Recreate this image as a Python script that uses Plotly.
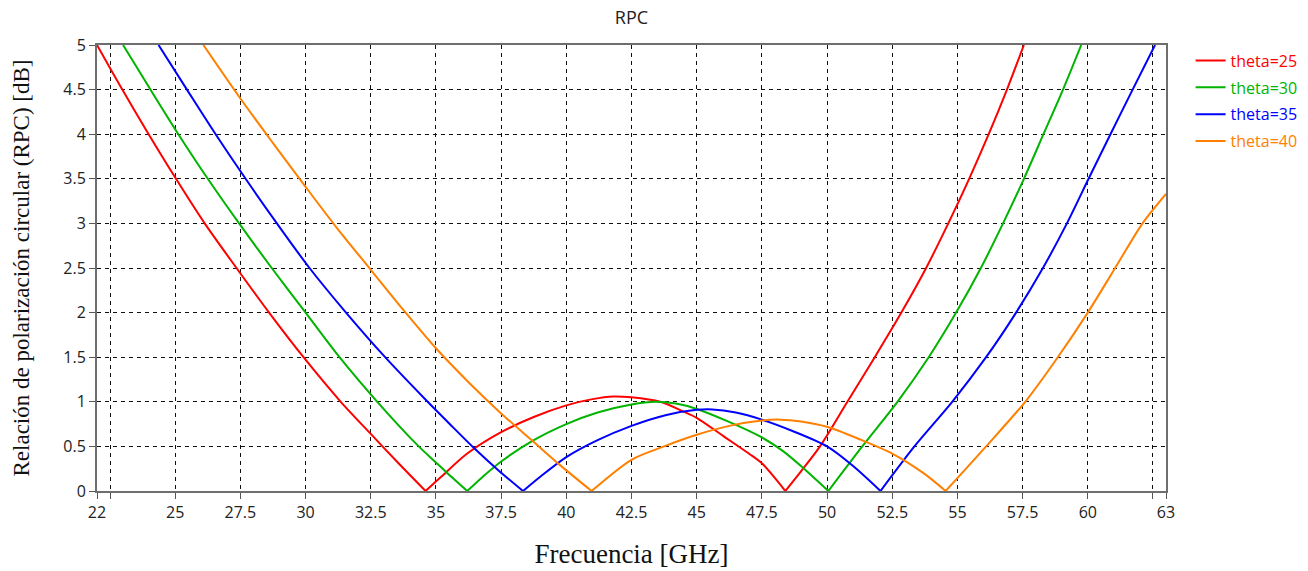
import plotly.graph_objects as go

# ---------------- data ----------------
freq_25 = [22.0, 22.97, 23.98, 25.03, 26.13, 27.35, 28.6, 29.92, 31.35, 32.5, 33.5, 34.6,
           35.2, 36.2, 37.5, 38.75, 40.0, 41.0, 41.8, 42.5, 43.6, 44.5, 45.0, 46.0, 47.0,
           47.5, 48.4, 49.0, 49.73, 50.78, 51.83, 52.85, 53.8, 54.65, 55.45, 56.2, 56.9, 57.55]
rpc_25 = [5.0, 4.5, 4.0, 3.5, 3.0, 2.5, 2.0, 1.5, 1.0, 0.64, 0.33, 0.0,
          0.16, 0.42, 0.66, 0.83, 0.96, 1.03, 1.06, 1.05, 1.0, 0.89, 0.82, 0.62, 0.42,
          0.31, 0.0, 0.22, 0.5, 1.0, 1.5, 2.0, 2.5, 3.0, 3.5, 4.0, 4.5, 5.0]

freq_30 = [23.0, 24.05, 25.12, 26.25, 27.45, 28.7, 30.0, 31.3, 32.75, 34.34, 35.0, 35.4, 36.2,
           36.8, 37.5, 38.75, 40.0, 41.2, 42.5, 43.4, 44.2, 45.0, 46.2, 47.5, 48.3, 49.0, 50.05,
           51.35, 52.7, 53.9, 54.95, 55.9, 56.75, 57.55, 58.3, 59.05, 59.75]
rpc_30 = [5.0, 4.5, 4.0, 3.5, 3.0, 2.5, 2.0, 1.5, 1.0, 0.5, 0.32, 0.21, 0.0,
          0.16, 0.33, 0.57, 0.75, 0.88, 0.97, 1.0, 0.98, 0.92, 0.78, 0.6, 0.45, 0.28, 0.0,
          0.5, 1.0, 1.5, 2.0, 2.5, 3.0, 3.5, 4.0, 4.5, 5.0]

freq_35 = [24.36, 25.45, 26.55, 27.7, 28.9, 30.15, 31.55, 33.05, 34.55, 35.5, 36.5, 37.4, 38.34,
           39.0, 40.0, 41.2, 42.5, 43.8, 45.0, 45.6, 46.5, 47.5, 48.7, 50.0, 51.0, 52.05,
           53.35, 54.8, 56.1, 57.25, 58.28, 59.2, 60.03, 60.87, 61.72, 62.58]
rpc_35 = [5.0, 4.5, 4.0, 3.5, 3.0, 2.5, 2.0, 1.5, 1.04, 0.76, 0.47, 0.23, 0.0,
          0.16, 0.38, 0.57, 0.73, 0.85, 0.91, 0.915, 0.88, 0.8, 0.67, 0.5, 0.28, 0.0,
          0.5, 1.0, 1.5, 2.0, 2.5, 3.0, 3.5, 4.0, 4.5, 5.0]

freq_40 = [26.08, 27.5, 28.75, 30.0, 31.25, 32.5, 33.75, 35.0, 36.25, 37.5, 38.75, 39.76, 40.97,
           42.5, 43.75, 45.0, 46.25, 47.5, 48.2, 49.0, 50.0, 51.25, 52.5, 53.7, 54.55,
           56.1, 57.6, 58.85, 60.0, 61.05, 62.1, 63.0]
rpc_40 = [5.0, 4.4, 3.9, 3.41, 2.93, 2.48, 2.03, 1.6, 1.22, 0.87, 0.55, 0.29, 0.0,
          0.35, 0.5, 0.63, 0.73, 0.79, 0.8, 0.78, 0.72, 0.58, 0.42, 0.2, 0.0,
          0.5, 1.0, 1.5, 2.0, 2.5, 3.0, 3.33]

series_names = ["theta=25", "theta=30", "theta=35", "theta=40"]
series_colors = ["#ff0000", "#00b400", "#0000ff", "#ff8000"]

x_tickvals = [22, 22.5, 25, 27.5, 30, 32.5, 35, 37.5, 40, 42.5, 45, 47.5, 50,
              52.5, 55, 57.5, 60, 62.5, 63]
x_ticktext = ["22", "", "25", "27.5", "30", "32.5", "35", "37.5", "40", "42.5", "45",
              "47.5", "50", "52.5", "55", "57.5", "60", "", "63"]


def branches(xs, ys):
    """Split a curve at its interior zeros so each V-tip stays sharp."""
    segs, start = [], 0
    for i, v in enumerate(ys):
        if v == 0 and 0 < i < len(ys) - 1:
            segs.append((xs[start:i + 1], ys[start:i + 1]))
            start = i
    segs.append((xs[start:], ys[start:]))
    return segs


# ---------------- figure ----------------
fig = go.Figure()
for i, (fx, fy) in enumerate([(freq_25, rpc_25), (freq_30, rpc_30),
                              (freq_35, rpc_35), (freq_40, rpc_40)]):
    col = series_colors[i]
    for k, (sx, sy) in enumerate(branches(fx, fy)):
        fig.add_trace(go.Scatter(
            x=sx, y=sy, mode="lines",
            line=dict(color=col, width=2, shape="spline", smoothing=0.8),
            name=f"<span style='color:{col}'>{series_names[i]}</span>",
            legendgroup=f"g{i}", showlegend=(k == 0),
        ))

tick_font = dict(family="Open Sans, Noto Sans, sans-serif", size=16, color="#222222")

fig.update_layout(
    width=1308, height=571,
    margin=dict(l=97, r=142, t=45, b=80, autoexpand=False),
    paper_bgcolor="white", plot_bgcolor="white",
    title=dict(text="RPC", x=0.5, xref="paper", xanchor="center",
               y=1 - 18 / 571, yref="container", yanchor="middle",
               font=dict(family="Open Sans, Noto Sans, sans-serif", size=18, color="#222222")),
    showlegend=True,
    legend=dict(x=1.023, y=1.003, xanchor="left", yanchor="top",
                font=dict(family="Open Sans, Noto Sans, sans-serif", size=16),
                bgcolor="rgba(0,0,0,0)", traceorder="grouped", tracegroupgap=3,
                itemwidth=30),
    xaxis=dict(
        range=[22, 63], tickmode="array", tickvals=x_tickvals, ticktext=x_ticktext,
        showgrid=True, gridcolor="#111111", gridwidth=1, griddash="4px,4px",
        showline=True, linecolor="#6e6e6e", linewidth=2, mirror=True,
        ticks="outside", ticklen=6, tickcolor="#555555", tickwidth=1,
        tickfont=tick_font, zeroline=False, automargin=False,
        title=dict(text="Frecuencia [GHz]", standoff=22,
                   font=dict(family="Liberation Serif, Times New Roman, serif", size=27, color="#111111")),
    ),
    yaxis=dict(
        range=[0, 5], dtick=0.5, tick0=0,
        showgrid=True, gridcolor="#111111", gridwidth=1, griddash="4px,4px",
        showline=True, linecolor="#6e6e6e", linewidth=2, mirror=True,
        ticks="outside", ticklen=6, tickcolor="#555555", tickwidth=1,
        tickfont=tick_font, zeroline=False, automargin=False,
        title=dict(text="Relación de polarización circular (RPC) [dB]", standoff=27,
                   font=dict(family="Liberation Serif, Times New Roman, serif", size=23, color="#111111")),
    ),
)

fig.write_html("out.html", config={"displayModeBar": False},
               post_script="document.body.style.margin='0px';")
